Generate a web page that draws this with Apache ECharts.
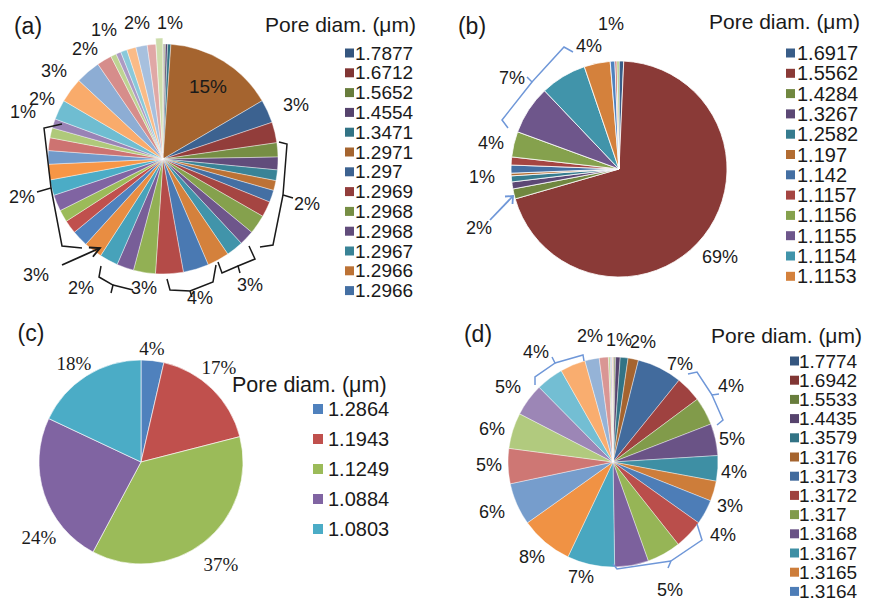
<!DOCTYPE html>
<html>
<head>
<meta charset="utf-8">
<script src="https://cdn.jsdelivr.net/npm/echarts/dist/echarts.min.js"></script>
<style>
html,body{margin:0;padding:0;background:#fff;}
#chart{width:870px;height:603px;}
</style>
</head>
<body>
<div id="chart"></div>
<script>
// ---------------- DATA ----------------
// (a)
const poreA = ['1.7877','1.6712','1.5652','1.4554','1.3471','1.2971','1.297','1.2969','1.2968','1.2968','1.2967','1.2966','1.2966'];
const shareA = [0.1,0.1,0.15,0.3,0.45, 15.5,
  3.3,2.9,2.0,1.8,1.5,1.4,
  1.7,2.2,2.7,2.1,2.4,3.1,
  3.6,3.9,3.1,2.4,2.6,2.6,
  2.3,1.9,1.7,2.3,2.2,2.2,
  1.9,1.8,1.4,1.3,2.8,3.5,
  3.5,2.1,0.8,0.7,0.9,1.3,
  1.6,1.2,1.0];
const labelsA = ['15%','3%','2%','3%','4%','3%','2%','3%','2%','1%','2%','3%','2%','1%','2%','1%'];
// (b)
const poreB = ['1.6917','1.5562','1.4284','1.3267','1.2582','1.197','1.142','1.1157','1.1156','1.1155','1.1154','1.1153'];
const shareB = [0.7,69.8,1.5,1.05,0.9,0.4,1.2,1.2,3.8,7.3,6.9,3.9,0.7,0.3,0.3];
const labelsB = ['1%','4%','7%','4%','1%','2%','69%'];
// (c)
const poreC = ['1.2864','1.1943','1.1249','1.0884','1.0803'];
const shareC = [3.6,17.4,36.8,24.2,18.0];
const labelsC = ['4%','17%','37%','24%','18%'];
// (d)
const poreD = ['1.7774','1.6942','1.5533','1.4435','1.3579','1.3176','1.3173','1.3172','1.317','1.3168','1.3167','1.3165','1.3164'];
const shareD = [0.1,0.1,0.2,0.7,1.2,1.6,
  6.9,4.0,4.3,4.9,3.9,3.1,
  3.8,4.5,5.2,5.2,7.3,8.1,
  6.5,5.4,5.5,5.0,4.2,3.9,
  2.2,1.4,0.3,0.2,0.1,0.1];
const labelsD = ['2%','1%','2%','7%','4%','5%','4%','3%','4%','5%','7%','8%','6%','5%','6%','5%','4%'];
const legendTitle = 'Pore diam. (μm)';

// ---------------- STYLE / LAYOUT ----------------
const ACCENTS = ['#4F81BD','#C0504D','#9BBB59','#8064A2','#4BACC6','#F79646'];
function shade(hex, t){
  const n = parseInt(hex.slice(1),16);
  let r = n>>16, g = (n>>8)&255, b = n&255;
  if (t < 0){ r*=1+t; g*=1+t; b*=1+t; }
  else { r += (255-r)*t; g += (255-g)*t; b += (255-b)*t; }
  return 'rgb(' + Math.round(r) + ',' + Math.round(g) + ',' + Math.round(b) + ')';
}
function palette(n, levels){
  const out = [];
  for (let i=0;i<n;i++){
    const lv = levels[Math.min(Math.floor(i/6), levels.length-1)];
    out.push(shade(ACCENTS[i%6], lv));
  }
  return out;
}
const palA = palette(shareA.length, [-0.33,-0.24,-0.14,-0.06,0,0.2,0.35,0.5]);
const palB = palette(shareB.length, [-0.28,-0.14,0]);
const palC = palette(shareC.length, [0]);
const palD = palette(shareD.length, [-0.33,-0.17,-0.03,0.22,0.4]);

const SANS = '"Liberation Sans", Arial, sans-serif';
const SERIF = '"Liberation Serif", "Times New Roman", serif';
const INK = '#1a1a1a';
const BLUE_LINE = '#6F97D8';

const posA = [[208,86],[296,105],[307,204],[250,285],[200,298],[144,288],[81,288],[36,275],[22,197],[23,112],[42,99],[54,71],[85,49],[104,30],[137,23],[170,23]];
const posB = [[611,24],[589,46],[512,78],[491,143],[482,177],[479,228],[720,257]];
const posC = [[152,348],[219,367],[221,564],[39,537],[74,363]];
const posD = [[590,336],[619,340],[643,342],[680,364],[731,386],[732,439],[734,472],[730,506],[723,535],[670,590],[581,577],[532,557],[492,512],[489,465],[492,429],[508,387],[536,352]];

const els = [];
function txt(s, x, y, font, align, fill){
  els.push({type:'text', z:100, x:x, y:y, style:{text:s, font:font, fill:fill||INK,
    align:align||'center', textAlign:align||'center', verticalAlign:'middle', textVerticalAlign:'middle'}});
}
function line(points, color, w){
  els.push({type:'polyline', z:100, shape:{points:points}, style:{stroke:color, lineWidth:w||1.5, fill:null}});
}
function legend(names, colors, titleX, titleY, swX, txX, y0, step, sw, font, tfont){
  txt(legendTitle, titleX, titleY, tfont, 'left');
  names.forEach(function(nm, i){
    const y = y0 + i*step;
    els.push({type:'rect', z:100, shape:{x:swX, y:y-sw/2, width:sw, height:sw}, style:{fill:colors[i]}});
    txt(nm, txX, y, font, 'left');
  });
}

// panel letters
txt('(a)', 28, 26, '23px ' + SANS);
txt('(b)', 472, 26, '23px ' + SANS);
txt('(c)', 31, 333, '23px ' + SANS);
txt('(d)', 478, 334, '23px ' + SANS);

// legends
legend(poreA, palA, 265, 24, 345, 355, 53, 19.8, 9, '19px ' + SANS, '21px ' + SANS);
legend(poreB, palB, 709, 21, 786, 797, 53, 20.3, 9, '20px ' + SANS, '21px ' + SANS);
legend(poreC, palC, 232, 385, 313, 328, 409, 30, 10, '20px ' + SANS, '21.5px ' + SANS);
legend(poreD, palD, 711, 335, 790, 799, 361, 19.2, 9, '19px ' + SANS, '21px ' + SANS);

// pie labels
labelsA.forEach(function(s,i){ txt(s, posA[i][0], posA[i][1], (i===0?'19px ':'18px ') + SANS); });
labelsB.forEach(function(s,i){ txt(s, posB[i][0], posB[i][1], '18px ' + SANS); });
labelsC.forEach(function(s,i){ txt(s, posC[i][0], posC[i][1], '19px ' + SERIF); });
labelsD.forEach(function(s,i){ txt(s, posD[i][0], posD[i][1], '18px ' + SANS); });

// brackets & arrows (a)
line([[279,142],[287,144],[283,195],[293,198]], INK);
line([[283,195],[273,245],[260,247]], INK);
line([[249,246],[255,259],[238,266],[240,273]], INK);
line([[238,266],[222,273],[218,262]], INK);
line([[167,279],[170,290],[190,291],[192,297]], INK);
line([[190,291],[213,282],[216,265]], INK);
line([[101,266],[99,277],[113,285],[111,293]], INK);
line([[113,285],[133,290]], INK);
line([[62,124],[44,128],[51,188],[37,192]], INK);
line([[51,188],[62,246],[82,248]], INK);
line([[62,265],[100,248]], INK, 1.8);
line([[92.9,256.7],[100,248],[88.9,247.5]], INK, 1.8);

// brackets & arrows (b)
line([[573,52],[564,47],[532,82],[527,77]], BLUE_LINE);
line([[532,82],[502,120],[508,128]], BLUE_LINE);
line([[490,220],[513,196]], BLUE_LINE, 1.8);
line([[505,196.5],[513,196],[512.5,204]], BLUE_LINE, 1.8);

// brackets (d)
line([[688,374],[697,372],[712,395],[719,394]], BLUE_LINE);
line([[712,395],[723,420],[717,425]], BLUE_LINE);
line([[697,524],[702,540],[671,561],[668,568]], BLUE_LINE);
line([[671,561],[617,569],[613,564]], BLUE_LINE);
line([[535,385],[535,377],[555,363],[552,357]], BLUE_LINE);
line([[555,363],[583,355],[584,361]], BLUE_LINE);

// ---------------- CHART ----------------
function pieSeries(values, names, colors, center, radius, explodeIdx, bw){
  return {
    type:'pie', center:center, radius:[0, radius], startAngle:90, clockwise:true,
    animation:false, silent:true,
    selectedMode: explodeIdx >= 0 ? 'multiple' : false, selectedOffset: 6,
    label:{show:false}, labelLine:{show:false},
    itemStyle:{borderColor:'#ffffff', borderWidth:bw},
    emphasis:{disabled:true, scale:false},
    data: values.map(function(v,i){
      const st = {color:colors[i], borderColor:'#ffffff', borderWidth:bw};
      const it = {value:v, name:(names[i] || ('p' + (i+1))) + '#' + i, itemStyle:st, select:{itemStyle:st}};
      if (i === explodeIdx) it.selected = true;
      return it;
    })
  };
}

const chart = echarts.init(document.getElementById('chart'), null, {renderer:'svg', width:870, height:603});
chart.setOption({
  backgroundColor:'#ffffff',
  animation:false,
  series:[
    pieSeries(shareA, poreA, palA, [163,159], 115, shareA.length-1, 0.4),
    pieSeries(shareB, poreB, palB, [619,169], 108, -1, 0.8),
    pieSeries(shareC, poreC, palC, [141,462], 102, -1, 0.6),
    pieSeries(shareD, poreD, palD, [613,462], 105, -1, 0.4)
  ],
  graphic:{elements:els}
});
</script>
</body>
</html>
